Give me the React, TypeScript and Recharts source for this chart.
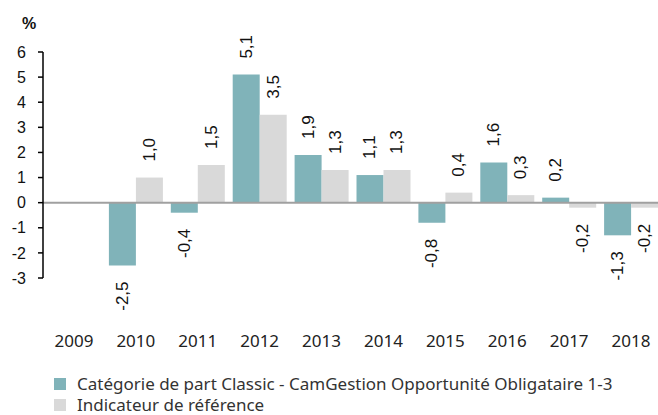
import { BarChart, Bar, XAxis, YAxis, ReferenceLine, LabelList } from 'recharts'

const years = ['2009', '2010', '2011', '2012', '2013', '2014', '2015', '2016', '2017', '2018']
const fundValues: Array<number | null> = [null, -2.5, -0.4, 5.1, 1.9, 1.1, -0.8, 1.6, 0.2, -1.3]
const benchValues: Array<number | null> = [null, 1.0, 1.5, 3.5, 1.3, 1.3, 0.4, 0.3, -0.2, -0.2]
const yTicks = [-3, -2, -1, 0, 1, 2, 3, 4, 5, 6]
const seriesNames = ['Catégorie de part Classic - CamGestion Opportunité Obligataire 1-3', 'Indicateur de référence']

const TEAL = '#80b3b9'
const GREY = '#d9d9d9'

const data = years.map((year, i) => ({ year, fund: fundValues[i], bench: benchValues[i] }))

function ValueLabel(props: any) {
  const { x, y, width, height, value } = props
  if (value === null || value === undefined) return null
  const cx = x + width / 2
  const top = Math.min(y, y + height)
  const bottom = Math.max(y, y + height)
  const positive = value >= 0
  const ly = positive ? top - 16 : bottom + 16
  return (
    <text
      x={cx}
      y={ly}
      transform={`rotate(-90, ${cx}, ${ly})`}
      textAnchor={positive ? 'start' : 'end'}
      dominantBaseline="central"
      fontFamily="'Liberation Sans', Arial, sans-serif"
      fontSize={17}
      fill="#111"
    >
      {value.toFixed(1).replace('.', ',')}
    </text>
  )
}

function YearTick(props: any) {
  const { x, payload } = props
  return (
    <text x={x} y={347} textAnchor="middle" fontFamily="'Noto Sans', sans-serif" fontSize={17} fill="#222">
      {payload.value}
    </text>
  )
}

export default function App() {
  return (
    <div style={{ position: 'absolute', left: 0, top: 0, width: 658, height: 415, background: '#fff', overflow: 'hidden' }}>
      <div
        style={{
          position: 'absolute',
          left: 22,
          top: 15,
          fontFamily: "'Liberation Sans', Arial, sans-serif",
          fontWeight: 'bold',
          fontSize: 16,
          color: '#111',
        }}
      >
        %
      </div>
      <BarChart
        width={658}
        height={415}
        data={data}
        margin={{ top: 52, right: -4, left: 0, bottom: 0 }}
        barGap={0}
      >
        <XAxis dataKey="year" axisLine={false} tickLine={false} height={137} tick={<YearTick />} interval={0} />
        <YAxis
          domain={[-3, 6]}
          ticks={yTicks}
          width={43}
          axisLine={{ stroke: '#000', strokeWidth: 1.5 }}
          tickLine={{ stroke: '#000', strokeWidth: 1.5 }}
          tickSize={5}
          tickMargin={12}
          tick={{ fontFamily: "'Liberation Sans', Arial, sans-serif", fontSize: 16, fill: '#111' }}
          interval={0}
        />
        <Bar dataKey="fund" fill={TEAL} barSize={27} isAnimationActive={false}>
          <LabelList dataKey="fund" content={<ValueLabel />} />
        </Bar>
        <Bar dataKey="bench" fill={GREY} barSize={27} isAnimationActive={false}>
          <LabelList dataKey="bench" content={<ValueLabel />} />
        </Bar>
        <ReferenceLine y={0} stroke="#a0a0a0" strokeWidth={2} />
      </BarChart>
      <div
        style={{
          position: 'absolute',
          left: 54,
          top: 373,
          fontFamily: "'Noto Sans', sans-serif",
          fontSize: 17,
          color: '#333',
          lineHeight: '21px',
        }}
      >
        {seriesNames.map((name, i) => (
          <div key={name} style={{ display: 'flex', alignItems: 'center' }}>
            <span style={{ display: 'inline-block', width: 12, height: 12, background: i === 0 ? TEAL : GREY, marginRight: 11 }} />
            {name}
          </div>
        ))}
      </div>
    </div>
  )
}
